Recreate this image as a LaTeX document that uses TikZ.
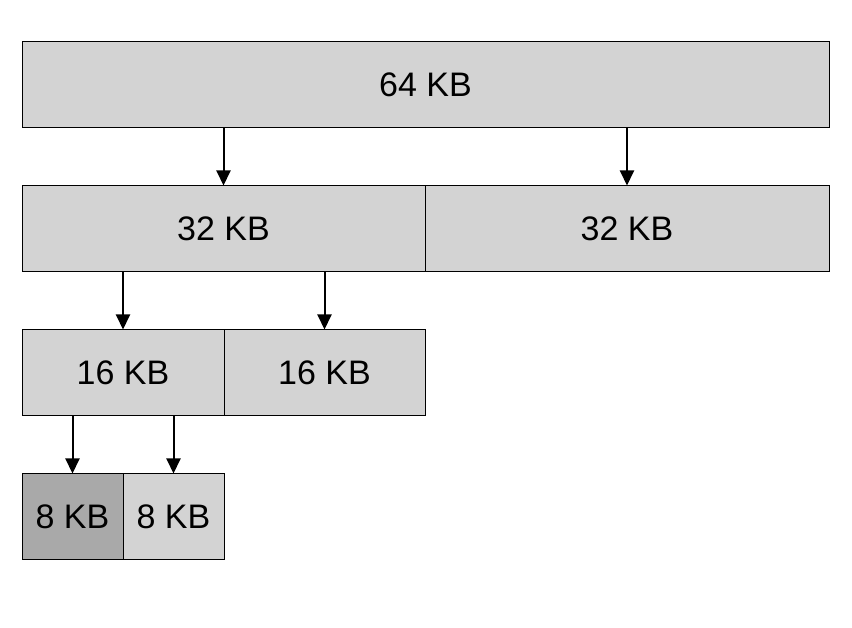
\documentclass[tikz,border=0pt]{standalone}
\usepackage{fontspec}
\setmainfont{Liberation Sans}
\usetikzlibrary{arrows.meta}
\definecolor{boxfill}{HTML}{D3D3D3}
\definecolor{darkfill}{HTML}{A9A9A9}
\begin{document}
\begin{tikzpicture}[x=1pt,y=1pt,
  blk/.style={draw=black,line width=1pt,fill=boxfill,rectangle,inner sep=0pt,minimum height=86pt,font=\fontsize{34}{37}\selectfont},
  arr/.style={-{Triangle[width=14pt,length=15pt]},line width=2pt,shorten >=0pt}]
\useasboundingbox (0,0) rectangle (852,627);
\node[blk,minimum width=807pt] (top) at (425.5,542) {64 KB};
\node[blk,minimum width=403pt] (r2a) at (223.5,398) {32 KB};
\node[blk,minimum width=404pt] (r2b) at (627,398) {32 KB};
\node[blk,minimum width=202pt] (r3a) at (123,254) {16 KB};
\node[blk,minimum width=201pt] (r3b) at (324.5,254) {16 KB};
\node[blk,minimum width=101pt,fill=darkfill] (r4a) at (72.5,110) {8 KB};
\node[blk,minimum width=101pt] (r4b) at (173.5,110) {8 KB};
\draw[arr] (r2a.north |- top.south) -- (r2a.north);
\draw[arr] (r2b.north |- top.south) -- (r2b.north);
\draw[arr] (r3a.north |- r2a.south) -- (r3a.north);
\draw[arr] (r3b.north |- r2a.south) -- (r3b.north);
\draw[arr] (r4a.north |- r3a.south) -- (r4a.north);
\draw[arr] (r4b.north |- r3a.south) -- (r4b.north);
\end{tikzpicture}
\end{document}
